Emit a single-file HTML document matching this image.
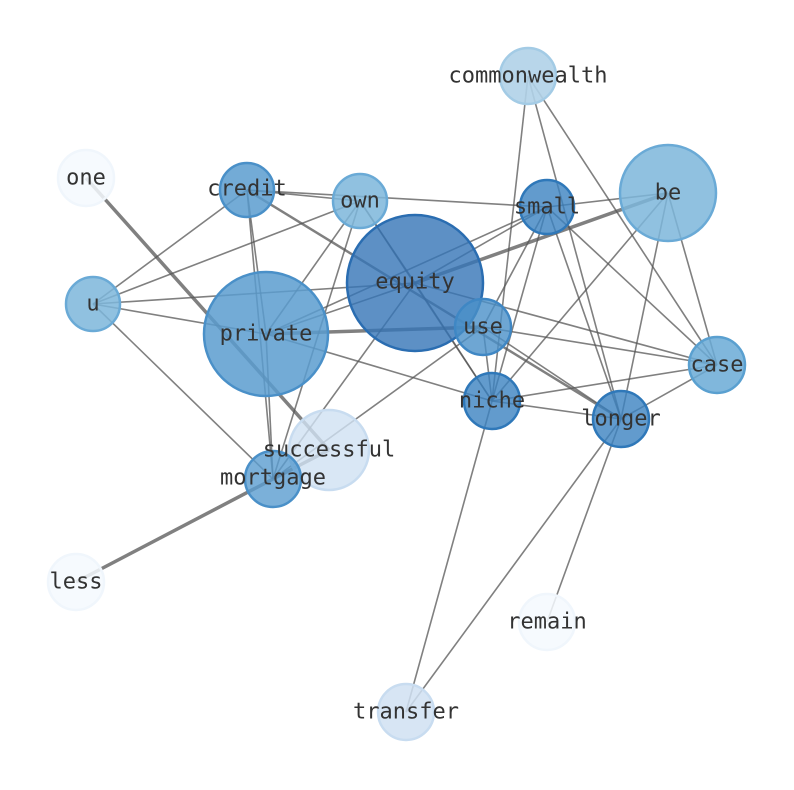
<!DOCTYPE html>
<html><head><meta charset="utf-8"><style>html,body{margin:0;padding:0;background:#fff}svg{display:block}</style></head>
<body>
<svg width="794" height="790" xmlns="http://www.w3.org/2000/svg">
<g stroke="#555" stroke-opacity="0.75" stroke-width="1.6" fill="none">
<line x1="528" y1="76" x2="492" y2="401"/>
<line x1="528" y1="76" x2="621" y2="419"/>
<line x1="528" y1="76" x2="717" y2="365"/>
<line x1="547" y1="207" x2="621" y2="419"/>
<line x1="547" y1="207" x2="717" y2="365"/>
<line x1="547" y1="207" x2="492" y2="401"/>
<line x1="547" y1="207" x2="483" y2="327"/>
<line x1="547" y1="207" x2="668" y2="193"/>
<line x1="547" y1="207" x2="415" y2="283"/>
<line x1="547" y1="207" x2="266" y2="334"/>
<line x1="247" y1="190" x2="547" y2="207"/>
<line x1="668" y1="193" x2="415" y2="283" stroke-width="3.5"/>
<line x1="668" y1="193" x2="492" y2="401"/>
<line x1="668" y1="193" x2="621" y2="419"/>
<line x1="668" y1="193" x2="717" y2="365"/>
<line x1="266" y1="334" x2="483" y2="327" stroke-width="3.5"/>
<line x1="266" y1="334" x2="415" y2="283"/>
<line x1="266" y1="334" x2="492" y2="401"/>
<line x1="266" y1="334" x2="93" y2="304"/>
<line x1="266" y1="334" x2="360" y2="201"/>
<line x1="266" y1="334" x2="247" y2="190"/>
<line x1="266" y1="334" x2="273" y2="479"/>
<line x1="415" y1="283" x2="93" y2="304"/>
<line x1="415" y1="283" x2="360" y2="201"/>
<line x1="415" y1="283" x2="492" y2="401"/>
<line x1="415" y1="283" x2="717" y2="365"/>
<line x1="415" y1="283" x2="273" y2="479"/>
<line x1="247" y1="190" x2="621" y2="419" stroke-width="2.5"/>
<line x1="247" y1="190" x2="360" y2="201"/>
<line x1="247" y1="190" x2="93" y2="304"/>
<line x1="247" y1="190" x2="273" y2="479"/>
<line x1="360" y1="201" x2="93" y2="304"/>
<line x1="360" y1="201" x2="273" y2="479"/>
<line x1="360" y1="201" x2="492" y2="401"/>
<line x1="93" y1="304" x2="273" y2="479"/>
<line x1="483" y1="327" x2="717" y2="365"/>
<line x1="483" y1="327" x2="492" y2="401"/>
<line x1="483" y1="327" x2="621" y2="419"/>
<line x1="483" y1="327" x2="273" y2="479"/>
<line x1="492" y1="401" x2="621" y2="419"/>
<line x1="492" y1="401" x2="717" y2="365"/>
<line x1="492" y1="401" x2="406" y2="712"/>
<line x1="621" y1="419" x2="717" y2="365"/>
<line x1="621" y1="419" x2="406" y2="712"/>
<line x1="621" y1="419" x2="547" y2="622"/>
<line x1="86" y1="178" x2="329" y2="450" stroke-width="3.5"/>
<line x1="273" y1="479" x2="76" y2="582" stroke-width="3.5"/>
<line x1="273" y1="479" x2="329" y2="450" stroke-width="3.5"/>
</g>
<g stroke-width="2.5">
<circle cx="528" cy="76" r="28" fill="#b0d2e8" stroke="#a3cbe5" fill-opacity="0.9"/>
<circle cx="86" cy="178" r="28" fill="#f5f9fe" stroke="#f0f6fc" fill-opacity="0.85"/>
<circle cx="247" cy="190" r="27" fill="#5a9ccf" stroke="#4a90c8" fill-opacity="0.85"/>
<circle cx="360" cy="201" r="27" fill="#7cb6db" stroke="#6aaad6" fill-opacity="0.85"/>
<circle cx="547" cy="207" r="27" fill="#3b82c0" stroke="#2f78b9" fill-opacity="0.8"/>
<circle cx="668" cy="193" r="48" fill="#7cb6db" stroke="#6aaad6" fill-opacity="0.85"/>
<circle cx="415" cy="283" r="68" fill="#3574b6" stroke="#2a6db1" fill-opacity="0.8"/>
<circle cx="93" cy="304" r="27" fill="#7cb6db" stroke="#6aaad6" fill-opacity="0.85"/>
<circle cx="266" cy="334" r="62" fill="#5a9ccf" stroke="#4a90c8" fill-opacity="0.85"/>
<circle cx="483" cy="327" r="28" fill="#4a90c8" stroke="#3f87c4" fill-opacity="0.8"/>
<circle cx="717" cy="365" r="28" fill="#6aaad6" stroke="#5aa0d0" fill-opacity="0.85"/>
<circle cx="492" cy="401" r="28" fill="#3b82c0" stroke="#2f78b9" fill-opacity="0.8"/>
<circle cx="621" cy="419" r="28" fill="#3b82c0" stroke="#2f78b9" fill-opacity="0.8"/>
<circle cx="329" cy="450" r="40" fill="#d0e1f2" stroke="#c8dcf0" fill-opacity="0.8"/>
<circle cx="273" cy="479" r="28" fill="#5a9ccf" stroke="#4a90c8" fill-opacity="0.8"/>
<circle cx="76" cy="582" r="28" fill="#f5f9fe" stroke="#f0f6fc" fill-opacity="0.85"/>
<circle cx="547" cy="622" r="28" fill="#f5f9fe" stroke="#f0f6fc" fill-opacity="0.85"/>
<circle cx="406" cy="712" r="28" fill="#d0e1f2" stroke="#c8dcf0" fill-opacity="0.85"/>
</g>
<g font-family="DejaVu Sans Mono, Liberation Mono, monospace" font-size="22" fill="#333" text-anchor="middle" dominant-baseline="central">
<text x="528" y="76">commonwealth</text>
<text x="86" y="178">one</text>
<text x="247" y="189">credit</text>
<text x="360" y="201">own</text>
<text x="547" y="207">small</text>
<text x="668" y="193">be</text>
<text x="415" y="282">equity</text>
<text x="93" y="304">u</text>
<text x="266" y="334">private</text>
<text x="483" y="327">use</text>
<text x="717" y="365">case</text>
<text x="492" y="401">niche</text>
<text x="621" y="419">longer</text>
<text x="329" y="450">successful</text>
<text x="273" y="478">mortgage</text>
<text x="76" y="582">less</text>
<text x="547" y="622">remain</text>
<text x="406" y="712">transfer</text>
</g>
</svg>
</body></html>
